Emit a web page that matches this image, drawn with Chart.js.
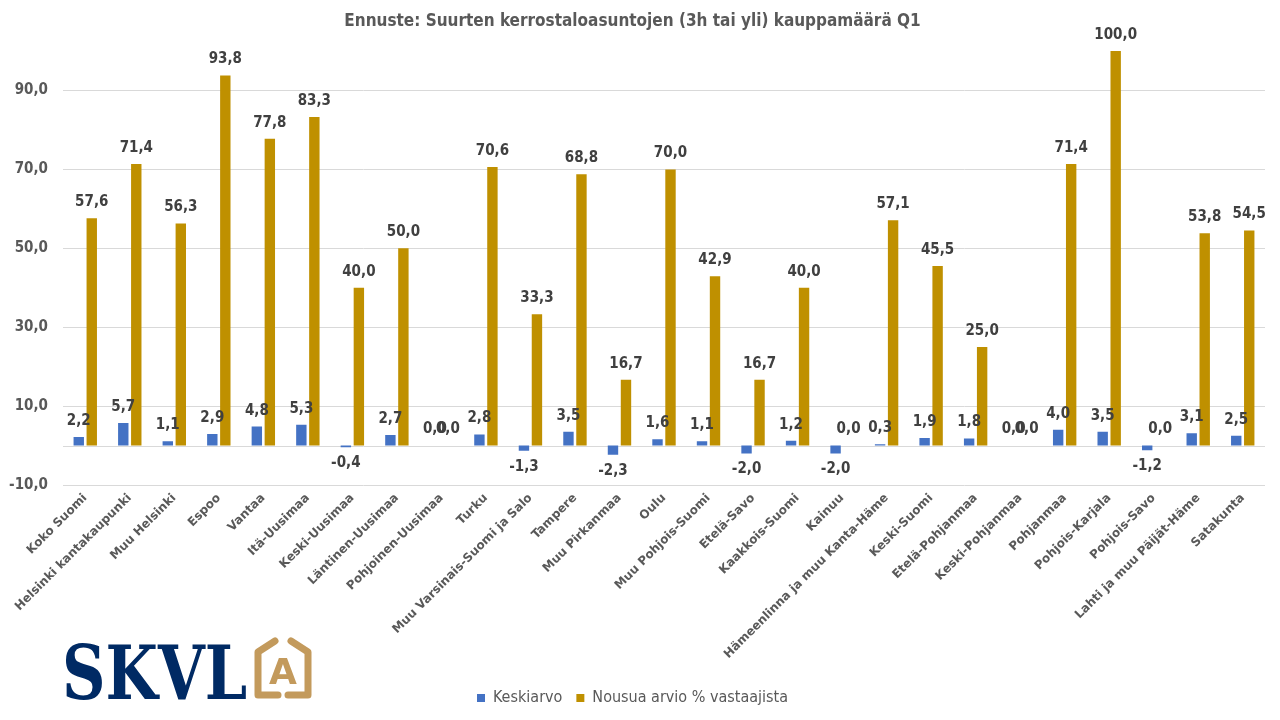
<!DOCTYPE html>
<html>
<head>
<meta charset="utf-8">
<script src="https://cdn.jsdelivr.net/npm/chart.js@4"></script>
<style>
  html, body { margin: 0; padding: 0; background: #fff; }
  #wrap { width: 1280px; height: 720px; }
</style>
</head>
<body>
<div id="wrap"><canvas id="kauppaChart" width="1280" height="720"></canvas></div>
<script>
const regions = [
  'Koko Suomi', 'Helsinki kantakaupunki', 'Muu Helsinki', 'Espoo', 'Vantaa',
  'Itä-Uusimaa', 'Keski-Uusimaa', 'Läntinen-Uusimaa', 'Pohjoinen-Uusimaa', 'Turku',
  'Muu Varsinais-Suomi ja Salo', 'Tampere', 'Muu Pirkanmaa', 'Oulu', 'Muu Pohjois-Suomi',
  'Etelä-Savo', 'Kaakkois-Suomi', 'Kainuu', 'Hämeenlinna ja muu Kanta-Häme', 'Keski-Suomi',
  'Etelä-Pohjanmaa', 'Keski-Pohjanmaa', 'Pohjanmaa', 'Pohjois-Karjala', 'Pohjois-Savo',
  'Lahti ja muu Päijät-Häme', 'Satakunta'
];
const keskiarvo = [
  2.2, 5.7, 1.1, 2.9, 4.8, 5.3, -0.4, 2.7, 0.0, 2.8,
  -1.3, 3.5, -2.3, 1.6, 1.1, -2.0, 1.2, -2.0, 0.3, 1.9,
  1.8, 0.0, 4.0, 3.5, -1.2, 3.1, 2.5
];
const nousua = [
  57.6, 71.4, 56.3, 93.8, 77.8, 83.3, 40.0, 50.0, 0.0, 70.6,
  33.3, 68.8, 16.7, 70.0, 42.9, 16.7, 40.0, 0.0, 57.1, 45.5,
  25.0, 0.0, 71.4, 100.0, 0.0, 53.8, 54.5
];
const yTicks = [-10, 10, 30, 50, 70, 90];

const narrow = "'Liberation Sans Narrow', 'DejaVu Sans Condensed', 'Arial Narrow', sans-serif";
const fmt = v => v.toFixed(1).replace('.', ',');

// value labels above / below bar ends
const valueLabels = {
  id: 'valueLabels',
  afterDatasetsDraw(chart) {
    const ctx = chart.ctx;
    ctx.save();
    ctx.font = 'bold 15px ' + narrow;
    ctx.fillStyle = '#404040';
    ctx.textAlign = 'center';
    ctx.textBaseline = 'middle';
    chart.data.datasets.forEach((ds, i) => {
      chart.getDatasetMeta(i).data.forEach((bar, j) => {
        const v = ds.data[j];
        const y = v < 0 ? bar.y + 16 : bar.y - 16;
        ctx.fillText(fmt(v), bar.x, y);
      });
    });
    ctx.restore();
  }
};

// category axis line at zero
const zeroLine = {
  id: 'zeroLine',
  beforeDatasetsDraw(chart) {
    const { ctx, chartArea, scales } = chart;
    const y = Math.round(scales.y.getPixelForValue(0)) + 0.5;
    ctx.save();
    ctx.strokeStyle = '#d9d9d9';
    ctx.lineWidth = 1;
    ctx.beginPath();
    ctx.moveTo(chartArea.left, y);
    ctx.lineTo(chartArea.right, y);
    ctx.stroke();
    ctx.restore();
  }
};

// SKVL logo, bottom left
const logo = {
  id: 'logo',
  afterDraw(chart) {
    const ctx = chart.ctx;
    ctx.save();
    ctx.font = 'bold 74px "DejaVu Serif", serif';
    ctx.fillStyle = '#002a64';
    ctx.textBaseline = 'alphabetic';
    const w = ctx.measureText('SKVL').width;
    ctx.translate(62, 699);
    ctx.scale(185 / w, 1);
    ctx.fillText('SKVL', 0, 0);
    ctx.restore();

    ctx.save();
    ctx.strokeStyle = '#c39a5c';
    ctx.fillStyle = '#c39a5c';
    ctx.lineWidth = 7;
    ctx.lineCap = 'round';
    ctx.lineJoin = 'round';
    ctx.beginPath();
    ctx.moveTo(275, 641);
    ctx.lineTo(258, 652);
    ctx.lineTo(258, 695);
    ctx.lineTo(278, 695);
    ctx.moveTo(291, 641);
    ctx.lineTo(308, 652);
    ctx.lineTo(308, 695);
    ctx.lineTo(288, 695);
    ctx.stroke();
    ctx.font = 'bold 36px "DejaVu Sans", sans-serif';
    ctx.textAlign = 'center';
    ctx.textBaseline = 'alphabetic';
    ctx.fillText('A', 283, 684);
    ctx.restore();
  }
};

const ctx = document.getElementById('kauppaChart');
new Chart(ctx, {
  type: 'bar',
  data: {
    labels: regions,
    datasets: [
      { label: 'Keskiarvo', data: keskiarvo, backgroundColor: '#4472c4' },
      { label: 'Nousua arvio % vastaajista', data: nousua, backgroundColor: '#bf9000' }
    ]
  },
  options: {
    responsive: false,
    animation: false,
    devicePixelRatio: 1,
    layout: { padding: { left: 0, right: 15, top: 0, bottom: 4 } },
    datasets: { bar: { categoryPercentage: 0.584, barPercentage: 0.8 } },
    plugins: {
      title: {
        display: true,
        text: 'Ennuste: Suurten kerrostaloasuntojen (3h tai yli) kauppamäärä Q1',
        color: '#595959',
        font: { family: narrow, size: 17, weight: 'bold', lineHeight: 1.2 },
        padding: { top: 11, bottom: 0 }
      },
      legend: {
        position: 'bottom',
        labels: {
          boxWidth: 8, boxHeight: 8, padding: 14,
          color: '#595959',
          font: { family: narrow, size: 16 }
        }
      },
      tooltip: { enabled: false }
    },
    scales: {
      x: {
        grid: { display: false, drawTicks: false },
        border: { display: false },
        afterFit(scale) { scale.height = 191; },
        ticks: {
          autoSkip: false, maxRotation: 45, minRotation: 45, padding: 6,
          color: '#595959',
          font: { family: "'DejaVu Sans', Verdana, sans-serif", size: 12, weight: 'bold' }
        }
      },
      y: {
        min: -10, max: 105,
        afterBuildTicks(scale) { scale.ticks = yTicks.map(v => ({ value: v })); },
        afterFit(scale) { scale.width = 63; },
        grid: { color: '#d9d9d9', drawTicks: false },
        border: { display: false },
        ticks: {
          padding: 15,
          color: '#595959',
          font: { family: narrow, size: 15, weight: 'bold' },
          callback: v => fmt(v)
        }
      }
    }
  },
  plugins: [zeroLine, valueLabels, logo]
});
</script>
</body>
</html>
